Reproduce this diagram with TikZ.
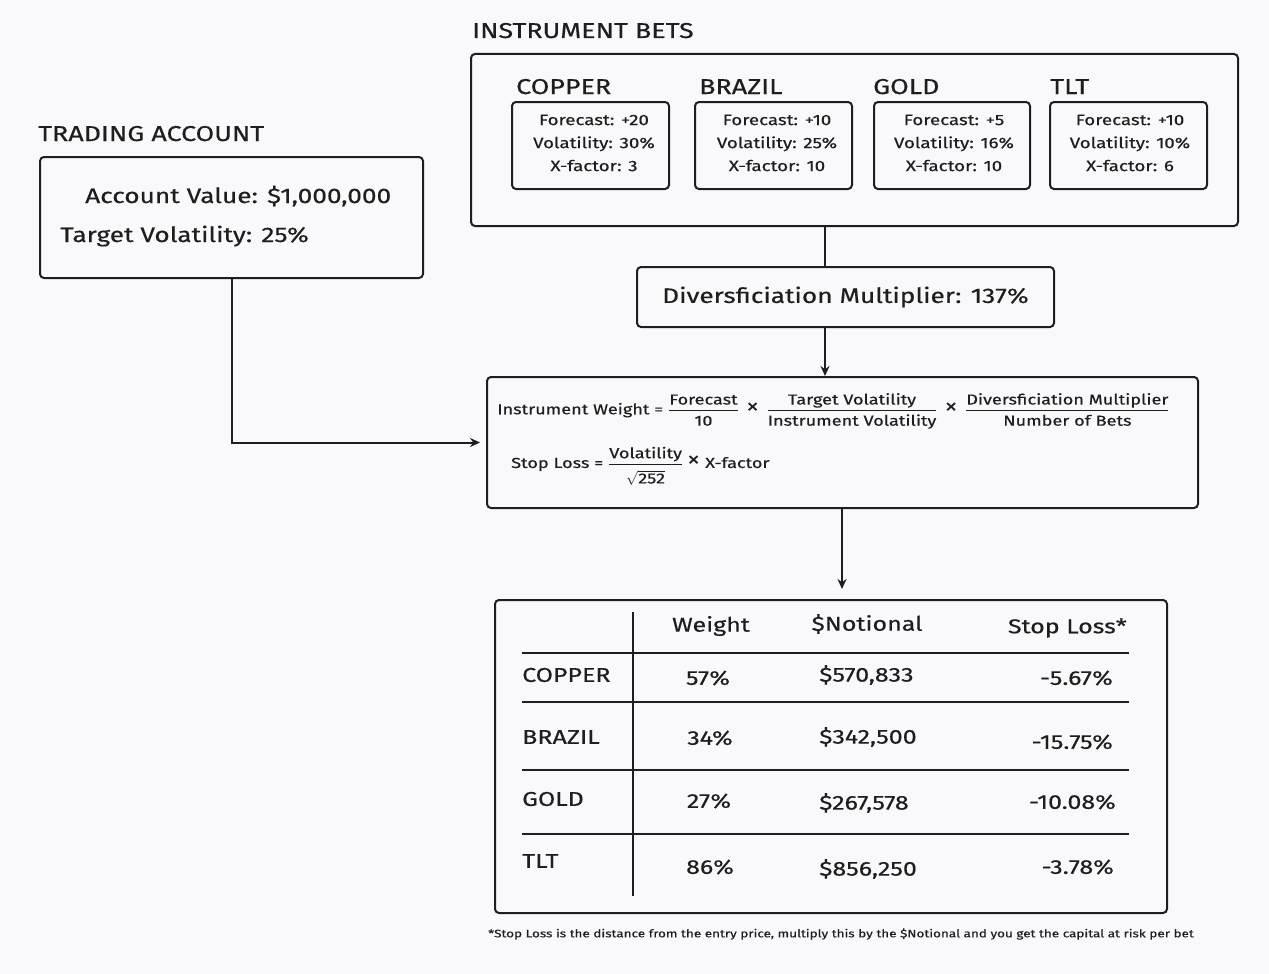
\documentclass[tikz,border=0pt]{standalone}
\usepackage{amsmath}
\usepackage{fontspec}
\setmainfont{Fira Sans}[FakeStretch=1.25, FakeBold=0.4]
\newfontfamily\thinfont{Fira Sans}[FakeStretch=1.1]
\usetikzlibrary{arrows.meta}
\definecolor{ink}{HTML}{1E1E1E}
\definecolor{bg}{HTML}{F9F9FB}
\newcommand{\tms}{\mathbin{\mbox{\thinfont\fontsize{24}{24}\selectfont ×}}}
\newcommand{\dstrut}{\rule{0pt}{13pt}}
\tikzset{
  box/.style={draw=ink, line width=2pt, rounded corners=4pt, inner sep=0pt, anchor=north west},
  conn/.style={draw=ink, line width=2pt},
  arr/.style={conn, -{Stealth[length=10pt,width=9pt]}},
  title/.style={text=ink, anchor=base west, inner sep=0pt, font=\fontsize{21.5}{24}\selectfont},
  small/.style={text=ink, align=center, font=\fontsize{15}{23}\selectfont},
  big/.style={text=ink, anchor=base west, inner sep=0pt, font=\fontsize{21}{24}\selectfont},
  cell/.style={text=ink, inner sep=0pt, font=\fontsize{20}{24}\selectfont},
  rule/.style={draw=ink, line width=2pt}
}
\begin{document}
\begin{tikzpicture}[x=1pt,y=-1pt]
\fill[bg] (0,0) rectangle (1269,974);
\useasboundingbox (0,0) rectangle (1269,974);

% Instrument bets
\node[title] (tbets) at (472,38) {INSTRUMENT BETS};
\node[box, minimum width=767pt, minimum height=172pt] (bets) at (470,53) {};
\node[title] (lcop) at (516,94) {COPPER};
\node[title] (lbra) at (699,94) {BRAZIL};
\node[title] (lgol) at (873,94) {GOLD};
\node[title] (ltlt) at (1050,94) {TLT};
\node[box, minimum width=157pt, minimum height=87pt] (bcop) at (511,101) {};
\node[box, minimum width=157pt, minimum height=87pt] (bbra) at (694,101) {};
\node[box, minimum width=156pt, minimum height=87pt] (bgol) at (873,101) {};
\node[box, minimum width=157pt, minimum height=87pt] (btlt) at (1049,101) {};
\node[small] (tcop) at (594,143) {Forecast: +20\\Volatility: 30\%\\X-factor: 3};
\node[small] (tbra) at (777,143) {Forecast: +10\\Volatility: 25\%\\X-factor: 10};
\node[small] (tgol) at (954,143) {Forecast: +5\\Volatility: 16\%\\X-factor: 10};
\node[small] (ttlt) at (1130,143) {Forecast: +10\\Volatility: 10\%\\X-factor: 6};

% Trading account
\node[title] (tacct) at (38,141) {TRADING ACCOUNT};
\node[box, minimum width=383pt, minimum height=121pt] (acct) at (39,156) {};
\node[big] (av) at (85,203) {Account Value: \$1,000,000};
\node[big] (tv) at (60,242) {Target Volatility: 25\%};

% Diversification multiplier
\node[box, minimum width=417pt, minimum height=60pt] (dm) at (636,266) {};
\node[text=ink, font=\fontsize{21}{24}\selectfont] (dmt) at (dm.center) {Diversficiation Multiplier: 137\%};

% Formula box
\node[box, minimum width=711pt, minimum height=131pt] (form) at (486,376) {};
\node[text=ink, anchor=west, inner sep=0pt, font=\fontsize{14.5}{16}\selectfont] (f1) at (497,411)
  {Instrument Weight = $\dfrac{\mbox{Forecast}}{\mbox{\dstrut 10}}\;\tms\;\dfrac{\mbox{Target Volatility}}{\mbox{\dstrut Instrument Volatility}}\;\tms\;\dfrac{\mbox{Diversficiation Multiplier}}{\mbox{\dstrut Number of Bets}}$};
\node[text=ink, anchor=west, inner sep=0pt, font=\fontsize{14.5}{16}\selectfont] (f2) at (511,466)
  {Stop Loss = $\dfrac{\mbox{Volatility}}{\rule{0pt}{17pt}\sqrt{\mbox{252}}}\;\tms$ X-factor};

% Result table
\node[box, minimum width=672pt, minimum height=313pt] (tab) at (494,599) {};
\draw[rule] (633,612) -- (633,896);
\foreach \yy in {653,702,770,834} \draw[rule] (522,\yy) -- (1129,\yy);
\node[cell] (hw) at (711,626) {Weight};
\node[cell] (hn) at (867,624) {\$Notional};
\node[cell, anchor=east] (hs) at (1127,628) {Stop Loss*};
\node[cell, anchor=west] (r1) at (522,675) {COPPER};
\node[cell, anchor=west] (r2) at (522,737) {BRAZIL};
\node[cell, anchor=west] (r3) at (522,799) {GOLD};
\node[cell, anchor=west] (r4) at (522,861) {TLT};
\node[cell] (w1) at (708,678) {57\%};
\node[cell] (w2) at (710,738) {34\%};
\node[cell] (w3) at (709,801) {27\%};
\node[cell] (w4) at (710,867) {86\%};
\node[cell, anchor=west] (n1) at (819,675) {\$570,833};
\node[cell, anchor=west] (n2) at (819,737) {\$342,500};
\node[cell, anchor=west] (n3) at (819,803) {\$267,578};
\node[cell, anchor=west] (n4) at (819,869) {\$856,250};
\node[cell, anchor=east] (s1) at (1113,678) {-5.67\%};
\node[cell, anchor=east] (s2) at (1113,742) {-15.75\%};
\node[cell, anchor=east] (s3) at (1116,802) {-10.08\%};
\node[cell, anchor=east] (s4) at (1114,867) {-3.78\%};
\node[text=ink, font=\fontsize{10.8}{13}\selectfont] (foot) at (841,934) {*Stop Loss is the distance from the entry price, multiply this by the \$Notional and you get the capital at risk per bet};

% Connectors
\coordinate (xa) at (825,0);
\coordinate (xb) at (842,0);
\draw[arr, shorten >=6pt] (acct.south) |- (form.west);
\draw[conn] (bets.south -| xa) -- (dm.north -| xa);
\draw[arr] (dm.south -| xa) -- (form.north -| xa);
\draw[arr, shorten >=10pt] (form.south -| xb) -- (tab.north -| xb);
\end{tikzpicture}
\end{document}
